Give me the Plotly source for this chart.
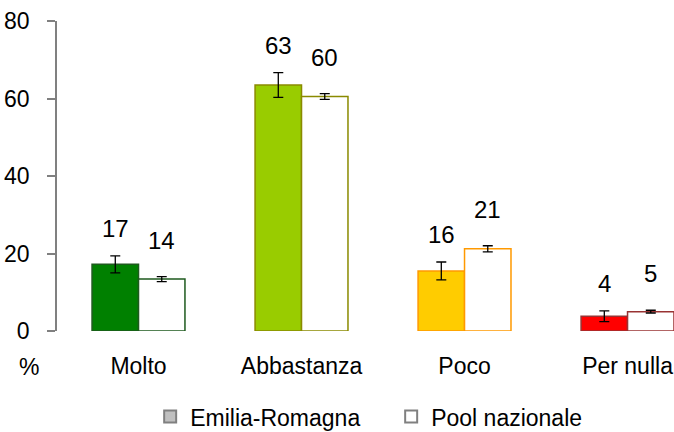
import plotly.graph_objects as go

categories = ["Molto", "Abbastanza", "Poco", "Per nulla"]
er_values = [17.2, 63.5, 15.5, 3.8]
er_errors = [2.2, 3.2, 2.3, 1.4]
er_labels = ["17", "63", "16", "4"]
pool_values = [13.4, 60.5, 21.2, 5.0]
pool_errors = [0.65, 0.75, 0.8, 0.35]
pool_labels = ["14", "60", "21", "5"]
series_names = ["Emilia-Romagna", "Pool nazionale"]
y_ticks = [0, 20, 40, 60, 80]

FILL_COLORS = ["#008000", "#99CC00", "#FFCC00", "#FF0000"]
EDGE_COLORS = ["#1E5A1E", "#8A8A00", "#FF9900", "#993333"]
FONT = "Liberation Sans, Arial, sans-serif"

x_idx = list(range(len(categories)))
BAR_W = 0.285

fig = go.Figure()
err_style = dict(type="data", color="#000000", thickness=1.3, width=5)
fig.add_trace(go.Bar(
    x=x_idx, y=er_values, width=BAR_W, offset=-BAR_W,
    marker=dict(color=FILL_COLORS, line=dict(color=EDGE_COLORS, width=1.5)),
    error_y=dict(array=er_errors, **err_style),
    showlegend=False, name=series_names[0],
))
fig.add_trace(go.Bar(
    x=x_idx, y=pool_values, width=BAR_W, offset=0,
    marker=dict(color="#FFFFFF", line=dict(color=EDGE_COLORS, width=1.5)),
    error_y=dict(array=pool_errors, **err_style),
    showlegend=False, name=series_names[1],
))

# legend entries (grey / white squares)
for name, col in zip(series_names, ["#C0C0C0", "#FFFFFF"]):
    fig.add_trace(go.Scatter(
        x=[None], y=[None], mode="markers", name=name,
        marker=dict(symbol="square", size=13, color=col,
                    line=dict(color="#808080", width=1)),
    ))

# value labels above error bars
for i in x_idx:
    fig.add_annotation(x=i - BAR_W / 2, y=er_values[i] + er_errors[i],
                       text=er_labels[i], showarrow=False, yanchor="bottom",
                       yshift=12, font=dict(size=24, color="#000000", family=FONT))
    fig.add_annotation(x=i + BAR_W / 2, y=pool_values[i] + pool_errors[i],
                       text=pool_labels[i], showarrow=False, yanchor="bottom",
                       yshift=21, font=dict(size=24, color="#000000", family=FONT))

fig.add_annotation(xref="paper", yref="paper", x=-0.045, y=-0.115, text="%",
                   showarrow=False, yanchor="middle", xanchor="center",
                   font=dict(size=23, color="#000000", family=FONT))

fig.update_layout(
    width=674, height=432,
    margin=dict(l=57, r=0, t=21, b=101, autoexpand=False),
    paper_bgcolor="white", plot_bgcolor="white",
    font=dict(family=FONT, size=23, color="#000000"),
    barmode="overlay",
    xaxis=dict(
        range=[-0.5, 3.285], tickmode="array", tickvals=x_idx, ticktext=categories,
        showline=False, showgrid=False, zeroline=False, ticks="",
        ticklabelstandoff=19, tickfont=dict(size=23), automargin=False,
    ),
    yaxis=dict(
        range=[0, 80], tickvals=y_ticks, showgrid=False, zeroline=False,
        showline=True, linecolor="#808080", linewidth=1.5,
        ticks="outside", ticklen=8, tickcolor="#808080", tickwidth=1.5,
        ticklabelstandoff=13, tickfont=dict(size=23), automargin=False,
    ),
    legend=dict(orientation="h", x=0.151, xanchor="left", y=-0.207, yanchor="top",
                font=dict(size=23), itemsizing="constant", traceorder="normal",
                entrywidthmode="pixels", entrywidth=196),
)

# drop the default page margin so the figure sits at the window's corner
fig.write_html("out.html", config={"displayModeBar": False},
               post_script="document.body.style.margin='0';")
